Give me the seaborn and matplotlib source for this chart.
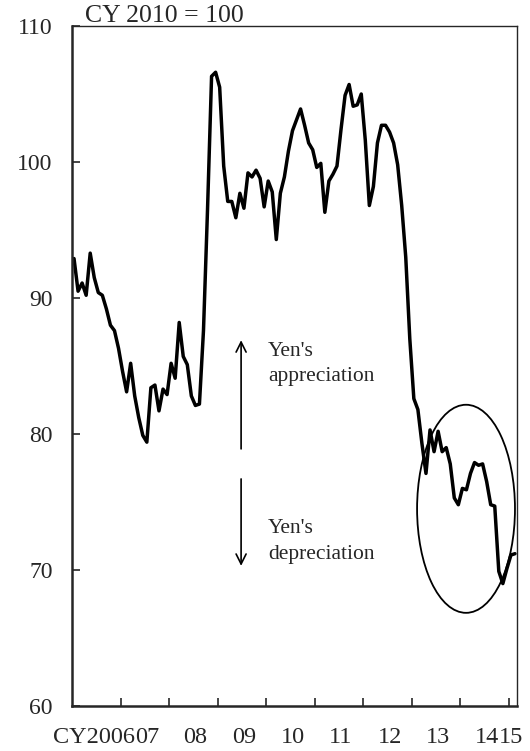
import numpy as np
import pandas as pd
import matplotlib
matplotlib.use("Agg")
import matplotlib.pyplot as plt
from matplotlib.patches import Ellipse
import seaborn as sns

# Monthly index, Jan 2006 - Feb 2015 (CY2010 = 100)
months = pd.date_range("2006-01-01", periods=110, freq="MS")
values = [
    92.9, 90.5, 91.1, 90.2, 93.3, 91.5, 90.4, 90.2, 89.2, 88.0, 87.6, 86.3,   # 2006
    84.6, 83.1, 85.2, 82.8, 81.2, 79.9, 79.4, 83.4, 83.6, 81.7, 83.3, 82.9,   # 2007
    85.2, 84.1, 88.2, 85.7, 85.1, 82.8, 82.1, 82.2, 87.6, 96.5, 106.3, 106.6, # 2008
    105.5, 99.7, 97.1, 97.1, 95.9, 97.7, 96.6, 99.2, 98.9, 99.4, 98.8, 96.7,  # 2009
    98.6, 97.8, 94.3, 97.7, 98.9, 100.8, 102.3, 103.1, 103.9, 102.7, 101.4, 100.9,  # 2010
    99.6, 99.9, 96.3, 98.6, 99.1, 99.7, 102.4, 104.9, 105.7, 104.1, 104.2, 105.0,   # 2011
    101.6, 96.8, 98.2, 101.4, 102.7, 102.7, 102.2, 101.4, 99.8, 96.8, 93.0, 87.0,   # 2012
    82.6, 81.8, 79.3, 77.1, 80.3, 78.7, 80.2, 78.7, 79.0, 77.8, 75.3, 74.8,   # 2013
    76.0, 75.9, 77.1, 77.9, 77.7, 77.8, 76.5, 74.8, 74.7, 69.9, 69.0, 70.1,   # 2014
    71.1, 71.2,                                                               # 2015
]
year_labels = ["CY2006", "07", "08", "09", "10", "11", "12", "13", "14", "15"]
y_ticks = [60, 70, 80, 90, 100, 110]

df = pd.DataFrame({"idx": np.arange(len(months)), "value": values})

sns.set_style("ticks")
plt.rcParams["font.family"] = ["Liberation Serif", "DejaVu Serif"]

fig = plt.figure(figsize=(5.3, 7.51), dpi=100)
ax = fig.add_axes([72 / 530, 45 / 751, 445 / 530, 680 / 751])

sns.lineplot(data=df, x="idx", y="value", color="black", linewidth=2.5, ax=ax)

ax.set_xlim(-0.5, len(months) - 0.5)
ax.set_ylim(60, 110)
ax.set_xlabel("")
ax.set_ylabel("")

# y axis
ax.set_yticks(y_ticks)
ax.set_yticklabels([str(t) for t in y_ticks], fontsize=17)
ax.tick_params(axis="y", direction="in", length=6, width=1.2, pad=14)

# x axis: ticks at year boundaries, labels placed mid-year
jan_idx = [i for i, m in enumerate(months) if m.month == 1 and i > 0]
ax.set_xticks([i - 0.5 for i in jan_idx])
ax.set_xticklabels([])
ax.tick_params(axis="x", direction="in", length=6, width=1.2)

trans = ax.get_xaxis_transform()
for lab in year_labels:
    if lab == "CY2006":
        ax.text(15.0, -0.031, lab, transform=trans, ha="right", va="top", fontsize=17.5)
        continue
    yr = 2000 + int(lab)
    idx = [i for i, m in enumerate(months) if m.year == yr]
    pos = idx[6] if len(idx) > 6 else idx[0]
    ax.text(pos, -0.031, lab, transform=trans, ha="center", va="top", fontsize=17.5)

for side in ["left", "bottom"]:
    ax.spines[side].set_linewidth(1.8)
for side in ["top", "right"]:
    ax.spines[side].set_linewidth(1.0)

# base year note
ax.text(0.03, 1.006, "CY 2010 = 100", transform=ax.transAxes,
        ha="left", va="baseline", fontsize=18.5)

# arrows and labels
ax.annotate("", xy=(41.3, 87.1), xytext=(41.3, 78.7),
            arrowprops=dict(arrowstyle="->", lw=1.2, color="black",
                            mutation_scale=18))
ax.annotate("", xy=(41.3, 70.1), xytext=(41.3, 76.9),
            arrowprops=dict(arrowstyle="->", lw=1.2, color="black",
                            mutation_scale=18))
ax.text(48.0, 85.15, "Yen's\nappreciation", ha="left", va="center",
        fontsize=15.5, linespacing=1.45)
ax.text(48.0, 72.1, "Yen's\ndepreciation", ha="left", va="center",
        fontsize=15.5, linespacing=1.45)

# circle around recent depreciation
ax.add_patch(Ellipse((96.9, 74.5), width=24.2, height=15.3,
                     fill=False, edgecolor="black", linewidth=1.3))

fig.savefig("out.png", dpi=100)
